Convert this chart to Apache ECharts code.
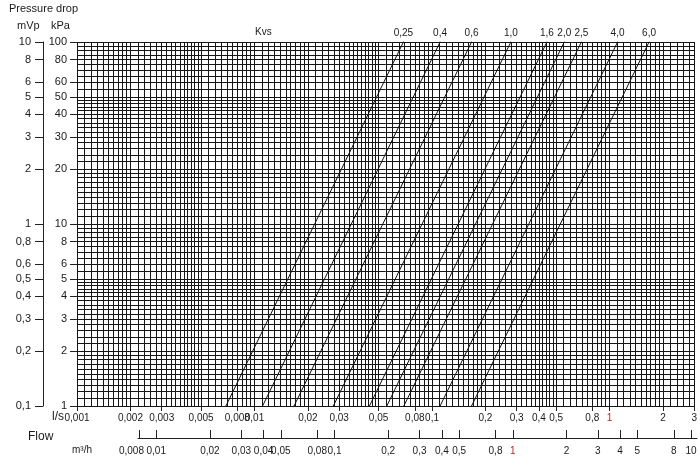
<!DOCTYPE html>
<html><head><meta charset="utf-8">
<script src="https://cdn.jsdelivr.net/npm/echarts@6/dist/echarts.min.js"></script>
<style>html,body{margin:0;padding:0;background:#fff}#c{width:700px;height:466px}</style>
</head><body><div id="c"></div>
<script>
// Kvs curves: flow (l/s) read at 1 kPa and at 100 kPa
const kvsLabels = ['0,25','0,4','0,6','1,0','1,6','2,0','2,5','4,0','6,0'];
const flowAt1kPa = [0.0069,0.0111,0.0167,0.0278,0.0444,0.0556,0.0694,0.111,0.167];
const flowAt100kPa = [0.069,0.111,0.167,0.278,0.444,0.556,0.694,1.11,1.67];
const dropEnds = [1, 100];
// axis tick labels
const flowTicksLs = [0.001,0.002,0.003,0.005,0.008,0.01,0.02,0.03,0.05,0.08,0.1,0.2,0.3,0.4,0.5,0.8,1,2,3];
const flowTicksM3h = [0.008,0.01,0.02,0.03,0.04,0.05,0.08,0.1,0.2,0.3,0.4,0.5,0.8,1,2,3,4,5,8,10];
const kpaTicks = [1,2,3,4,5,6,8,10,20,30,40,50,60,80,100];
const mvpTicks = [0.1,0.2,0.3,0.4,0.5,0.6,0.8,1,2,3,4,5,6,8,10];
// grid line mantissas within one decade
const gridMantissas = [1,1.1,1.2,1.3,1.4,1.5,1.6,1.7,1.8,1.9,2,2.2,2.4,2.6,2.8,3,3.2,3.4,3.6,3.8,4,4.2,4.4,4.6,4.8,5,5.5,6,6.5,7,7.5,8,8.5,9,9.5];

function gridValues(lo, hi) {
  const out = [];
  for (let d = lo; d < hi * 1.0001; d *= 10) {
    gridMantissas.forEach(m => {
      const v = Number((m * d).toPrecision(6));
      if (v <= hi * 1.0001) out.push(v);
    });
  }
  out.push(hi);
  return out;
}
const xGrid = gridValues(0.001, 3);
const yGrid = gridValues(1, 100);

const m3hMin = 0.0079, m3hMax = 10.8;

const FONT = 'Liberation Sans, Arial, sans-serif';
const fmt = v => String(Number(v.toPrecision(6))).replace('.', ',');
const fmtM3h = v => {
  if (v < m3hMin * 1.001) return '';
  const s = fmt(v);
  return Math.abs(v - flowTicksM3h[0]) < 1e-9 ? '{first|' + s + '}' : s;
};
const txt = '#1a1a1a';
const labelColor = v => (Math.abs(v - 1) < 1e-6 ? '#b22a2a' : txt);

const series = kvsLabels.map((name, i) => ({
  type: 'line',
  name: name,
  xAxisIndex: 0, yAxisIndex: 0,
  data: [
    [flowAt1kPa[i], dropEnds[0]],
    { value: [flowAt100kPa[i], dropEnds[1]],
      label: { show: true, position: 'top', distance: 3, formatter: name,
               fontFamily: FONT, fontSize: 10, color: txt } }
  ],
  symbol: 'circle',
  symbolSize: 1,
  showSymbol: true,
  silent: true,
  itemStyle: { color: '#111' },
  lineStyle: { color: '#111', width: 1 }
}));

const chart = echarts.init(document.getElementById('c'), null, { renderer: 'canvas' });
chart.setOption({
  animation: false,
  backgroundColor: '#fff',
  textStyle: { fontFamily: FONT },
  grid: [
    { left: 77, right: 3, top: 42, bottom: 60 },
    { left: 138, right: 3, top: 420, bottom: 28 }
  ],
  xAxis: [
    { // l/s labelled axis
      type: 'log', gridIndex: 0, position: 'bottom', min: 0.001, max: 3,
      axisLine: { show: false },
      axisTick: { show: true, length: 5, customValues: flowTicksLs, lineStyle: { color: '#222' } },
      axisLabel: { customValues: flowTicksLs, formatter: fmt, margin: 7, fontSize: 10,
                   color: labelColor, fontFamily: FONT },
      splitLine: { show: false }
    },
    { // grid lines
      type: 'log', gridIndex: 0, position: 'top', min: 0.001, max: 3,
      axisLine: { show: false },
      axisTick: { show: false, customValues: xGrid },
      axisLabel: { show: false },
      splitLine: { show: true, lineStyle: { color: '#151515', width: 1 } }
    },
    { // m3/h axis
      type: 'log', gridIndex: 1, position: 'bottom', min: m3hMin, max: m3hMax,
      axisLine: { show: true, lineStyle: { color: '#222', width: 1 } },
      axisTick: { show: true, inside: true, length: 8, customValues: [m3hMin].concat(flowTicksM3h), lineStyle: { color: '#222' } },
      axisLabel: { customValues: [m3hMin].concat(flowTicksM3h), formatter: fmtM3h, margin: 8, fontSize: 10,
                   showMinLabel: false, color: labelColor, fontFamily: FONT,
                   rich: { first: { fontSize: 10, fontFamily: FONT, color: txt, padding: [0, 15, 0, 0] } } },
      splitLine: { show: false }
    }
  ],
  yAxis: [
    { // kPa
      type: 'log', gridIndex: 0, position: 'left', min: 1, max: 100,
      axisLine: { show: false },
      axisTick: { show: true, length: 7, customValues: kpaTicks, lineStyle: { color: '#222' } },
      axisLabel: { customValues: kpaTicks, formatter: fmt, margin: 10, fontSize: 11, color: txt, fontFamily: FONT },
      splitLine: { show: false }
    },
    { // mVp
      type: 'log', gridIndex: 0, position: 'left', offset: 34, min: 0.1, max: 10,
      axisLine: { show: true, lineStyle: { color: '#222', width: 1 } },
      axisTick: { show: true, length: 8, customValues: mvpTicks, lineStyle: { color: '#222' } },
      axisLabel: { customValues: mvpTicks, formatter: fmt, margin: 12, fontSize: 11, color: txt, fontFamily: FONT },
      splitLine: { show: false }
    },
    { // grid lines
      type: 'log', gridIndex: 0, position: 'right', min: 1, max: 100,
      axisLine: { show: false },
      axisTick: { show: false, customValues: yGrid },
      axisLabel: { show: false },
      splitLine: { show: true, lineStyle: { color: '#151515', width: 1 } }
    },
    { type: 'value', gridIndex: 1, show: false }
  ],
  graphic: [
    { type: 'text', left: 9, top: 3, style: { text: 'Pressure drop', font: '11px ' + FONT, fill: txt } },
    { type: 'text', left: 17, top: 20, style: { text: 'mVp', font: '11px ' + FONT, fill: txt } },
    { type: 'text', left: 51, top: 20, style: { text: 'kPa', font: '11px ' + FONT, fill: txt } },
    { type: 'text', left: 255, top: 27, style: { text: 'Kvs', font: '10px ' + FONT, fill: txt } },
    { type: 'text', left: 52, top: 411, style: { text: 'l/s', font: '12px ' + FONT, fill: txt } },
    { type: 'text', left: 28, top: 431, style: { text: 'Flow', font: '12px ' + FONT, fill: txt } },
    { type: 'text', left: 72, top: 445, style: { text: 'm³/h', font: '10px ' + FONT, fill: txt } }
  ],
  series: series
});
</script></body></html>
